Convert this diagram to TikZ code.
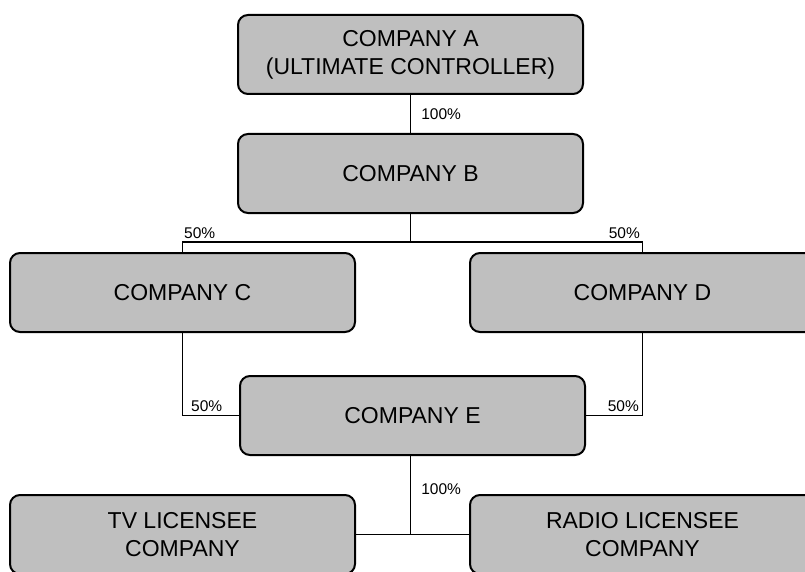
\documentclass[tikz,border=0pt]{standalone}
\usepackage{fontspec}
\setmainfont{Liberation Sans}
\usepackage{tikz}
\usetikzlibrary{positioning}
\tikzstyle{cbox} = [rectangle, rounded corners=10pt, draw, line width=2pt, fill=black!25, minimum width=345pt, minimum height=79pt, align=center, inner sep=0pt, font=\fontsize{23}{28}\selectfont]
\tikzstyle{pct} = [inner sep=2pt, font=\fontsize{15.5}{18}\selectfont]
\tikzstyle{line} = [draw, line width=1.6pt]

\begin{document}
\begin{tikzpicture}[x=1pt, y=-1pt]
			\useasboundingbox (0,0) rectangle (805,572);
			\clip (0,0) rectangle (805,572);
			\node [cbox] (A) at (410.5, 54.5) {COMPANY A\\(ULTIMATE CONTROLLER)};
			\node [cbox] (B) at (410.5, 173.5) {COMPANY B};
			\node [cbox] (C) at (182.5, 292.5) {COMPANY C};
			\node [cbox] (D) at (642.5, 292.5) {COMPANY D};
			\node [cbox] (E) at (412.5, 415.5) {COMPANY E};
			\node [cbox] (tv) at (182.5, 534.5) {TV LICENSEE\\COMPANY};
			\node [cbox] (radio) at (642.5, 534.5) {RADIO LICENSEE\\COMPANY};
			
			\coordinate (splitB) at (410.5, 242);
			\coordinate (splitE) at (410.5, 534.5);
			
			\path [line] (A) -- node [pct, right=8pt] (pAB) {100\%} (B);
			\path [line] (B) -- (splitB);
			\path [line] (splitB) -| (C);
			\path [line] (splitB) -| (D);
			\path [line] (C) |- (E);
			\path [line] (D) |- (E);
			\path [line] (E.south -| splitE) -- node [pct, right=8pt, pos=0.42] (pE) {100\%} (splitE);
			\path [line] (tv) -- (radio);
			
			\node [pct, anchor=south west] (pBC) at (182, 241) {50\%};
			\node [pct, anchor=south east] (pBD) at (642, 241) {50\%};
			\node [pct, anchor=south west] (pCE) at (189, 414) {50\%};
			\node [pct, anchor=south east] (pDE) at (641, 414) {50\%};
		\end{tikzpicture}
\end{document}
